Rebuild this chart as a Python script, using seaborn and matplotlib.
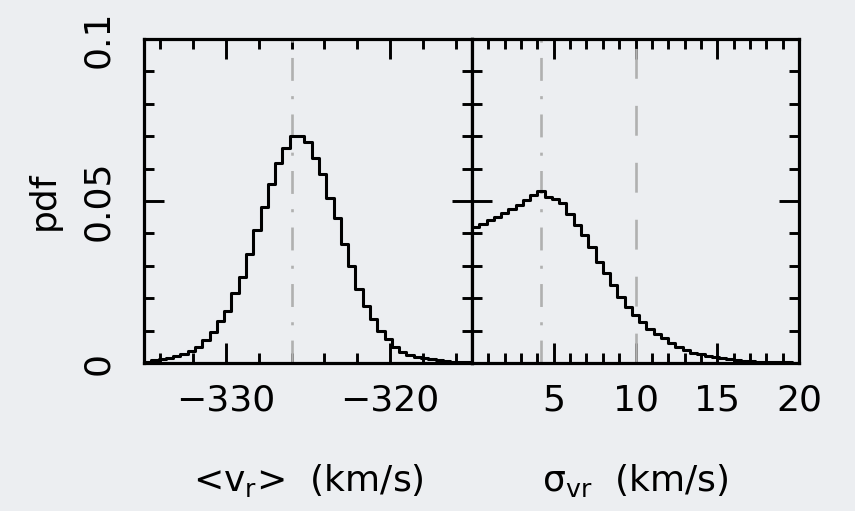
import numpy as np
import matplotlib
matplotlib.use("Agg")
import matplotlib.pyplot as plt
from matplotlib.ticker import MultipleLocator, FixedLocator
import seaborn as sns

# --- data ---
# left panel: <v_r> posterior, 45 bins over [-335, -315]
VR_RANGE = (-335, -315)
VR_PDF = [0.0004, 0.0008, 0.0011, 0.0015, 0.0021, 0.0029, 0.0038, 0.0050, 0.0071,
          0.0097, 0.0129, 0.0161, 0.0215, 0.0265, 0.0337, 0.0410, 0.0481, 0.0553,
          0.0616, 0.0665, 0.0700, 0.0700, 0.0682, 0.0634, 0.0584, 0.0509, 0.0446,
          0.0368, 0.0300, 0.0227, 0.0176, 0.0135, 0.0099, 0.0073, 0.0050, 0.0035,
          0.0025, 0.0019, 0.0014, 0.0011, 0.0008, 0.0006, 0.0004, 0.0003, 0.0002]
VR_MARK = -326.0

# right panel: sigma_vr posterior, 45 bins over [0, 20]
SIG_RANGE = (0, 20)
SIG_PDF = [0.0419, 0.0429, 0.0441, 0.0452, 0.0462, 0.0474, 0.0488, 0.0503, 0.0519,
           0.0531, 0.0511, 0.0505, 0.0495, 0.0460, 0.0426, 0.0395, 0.0358, 0.0313,
           0.0277, 0.0241, 0.0205, 0.0174, 0.0148, 0.0128, 0.0106, 0.0088, 0.0076,
           0.0063, 0.0049, 0.0041, 0.0032, 0.0027, 0.0022, 0.0017, 0.0014, 0.0011,
           0.0009, 0.0007, 0.0005, 0.0004, 0.0003, 0.0003, 0.0002, 0.0002, 0.0001]
SIG_MARK = 4.2
SIG_LIMIT = 10.0

Y_TICKS = [0, 0.05, 0.1]
Y_TICKLABELS = ["0", "0.05", "0.1"]

BG = "#eceef1"
GREY = "#b0b0b0"

sns.set_style("ticks")
plt.rcParams["font.family"] = ["DejaVu Sans"]
plt.rcParams["lines.scale_dashes"] = False
plt.rcParams["axes.unicode_minus"] = True
plt.rcParams["text.color"] = "black"
plt.rcParams["xtick.color"] = "black"
plt.rcParams["ytick.color"] = "black"
plt.rcParams["axes.labelcolor"] = "black"

fig = plt.figure(figsize=(8.55, 5.11), dpi=100, facecolor=BG)
ax1 = fig.add_axes([144 / 855, 1 - 363 / 511, 328 / 855, 324 / 511])
ax2 = fig.add_axes([472 / 855, 1 - 363 / 511, 327 / 855, 324 / 511], sharey=ax1)


def centers(rng, n):
    edges = np.linspace(rng[0], rng[1], n + 1)
    return (edges[:-1] + edges[1:]) / 2


def draw_hist(ax, rng, vals):
    sns.histplot(x=centers(rng, len(vals)), weights=vals, bins=len(vals), binrange=rng,
                 element="step", fill=False, color="black", linewidth=2.2, ax=ax, zorder=3)


draw_hist(ax1, VR_RANGE, VR_PDF)
draw_hist(ax2, SIG_RANGE, SIG_PDF)

dashdot = (16.5, 11, 2.2, 11)
ax1.axvline(VR_MARK, color=GREY, lw=1.9, dashes=dashdot, zorder=1)
ax2.axvline(SIG_MARK, color=GREY, lw=1.9, dashes=dashdot, zorder=1)
ax2.axvline(SIG_LIMIT, color=GREY, lw=1.9, dashes=(21.5, 19.5), zorder=1)

ax1.set_xlim(*VR_RANGE)
ax2.set_xlim(*SIG_RANGE)
ax1.set_ylim(0, 0.1)

ax1.xaxis.set_major_locator(FixedLocator([-330, -320]))
ax1.xaxis.set_minor_locator(MultipleLocator(2))
ax2.xaxis.set_major_locator(FixedLocator([5, 10, 15, 20]))
ax2.xaxis.set_minor_locator(MultipleLocator(1))
ax1.yaxis.set_major_locator(FixedLocator(Y_TICKS))
ax1.yaxis.set_minor_locator(MultipleLocator(0.01))
ax1.set_yticklabels(Y_TICKLABELS, rotation=90, va="center")

for ax in (ax1, ax2):
    ax.set_facecolor(BG)
    for s in ax.spines.values():
        s.set_visible(True)
        s.set_linewidth(2.3)
        s.set_color("black")
    ax.tick_params(which="both", direction="in", top=True, right=True, left=True,
                   bottom=True, width=2.1, color="black")
    ax.tick_params(which="major", length=14.4)
    ax.tick_params(which="minor", length=7.2)
    ax.tick_params(axis="x", labelsize=26, pad=15, labelcolor="black")
    ax.tick_params(axis="y", labelsize=26, pad=21, labelcolor="black")
    ax.set_ylabel("")
    ax.set_xlabel("")

ax2.tick_params(axis="y", labelleft=False)

ax1.set_xlabel("<v$_\\mathregular{r}$>  (km/s)", fontsize=26, color="black")
ax2.set_xlabel("σ$_\\mathregular{vr}$  (km/s)", fontsize=26, color="black")
ax1.xaxis.set_label_coords(0.5, -0.305)
ax2.xaxis.set_label_coords(0.5, -0.305)
ax1.set_ylabel("pdf", fontsize=26, color="black")
ax1.yaxis.set_label_coords(-0.255, 0.5)

fig.savefig("out.png", dpi=100, facecolor=BG)
